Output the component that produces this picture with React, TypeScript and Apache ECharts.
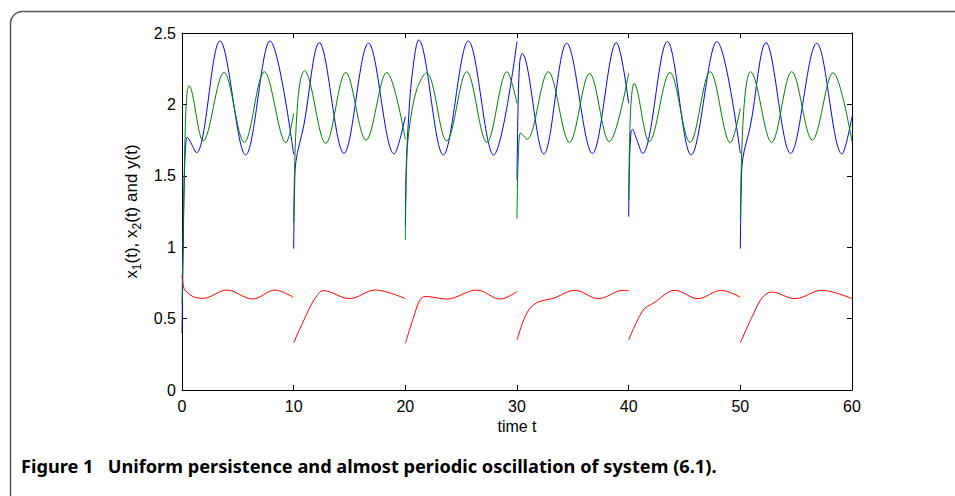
import React, { useEffect, useRef } from "react";
import * as echarts from "echarts";

// x1(t) — blue, one array per impulse interval
const x1Segments: number[][][] = [
  [[0, 0.4], [0.1, 0.95], [0.2, 1.45], [0.3, 1.68], [0.45, 1.77], [0.6, 1.76], [1.3, 1.662], [3.4, 2.444], [5.7, 1.646], [7.88, 2.444], [10, 1.65]],
  [[10, 0.99], [10.08, 1.4], [10.2, 1.6], [10.9, 1.85], [12.3, 2.432], [14.5, 1.657], [16.7, 2.428], [19.0, 1.653], [20, 1.914]],
  [[20, 1.15], [20.08, 1.55], [20.25, 1.85], [20.6, 2.2], [21.2, 2.451], [23.4, 1.646], [25.64, 2.444], [27.9, 1.646], [30, 2.44]],
  [[30, 1.47], [30.1, 2.0], [30.25, 2.3], [30.45, 2.357], [32.4, 1.653], [34.45, 2.428], [36.75, 1.657], [38.9, 2.432], [40, 2.007]],
  [[40, 1.214], [40.08, 1.6], [40.2, 1.8], [40.35, 1.825], [40.6, 1.78], [41.25, 1.657], [43.46, 2.44], [45.6, 1.646], [47.9, 2.44], [50, 1.657]],
  [[50, 0.99], [50.08, 1.4], [50.2, 1.61], [50.9, 1.85], [52.3, 2.432], [54.5, 1.657], [56.84, 2.428], [59.1, 1.653], [60, 1.914]],
];

// x2(t) — green
const x2Segments: number[][][] = [
  [[0, 0.6], [0.15, 1.3], [0.3, 1.85], [0.45, 2.08], [0.62, 2.13], [1.9, 1.745], [3.76, 2.224], [5.58, 1.734], [7.37, 2.229], [9.31, 1.732], [10, 1.937]],
  [[10, 1.17], [10.1, 1.6], [10.3, 1.95], [10.6, 2.17], [10.95, 2.236], [12.87, 1.727], [14.66, 2.224], [16.48, 1.75], [18.33, 2.224], [20, 1.755]],
  [[20, 1.05], [20.1, 1.55], [20.3, 1.8], [21.0, 2.1], [21.9, 2.222], [23.7, 1.744], [25.5, 2.229], [27.3, 1.734], [29.1, 2.229], [30, 2.007]],
  [[30, 1.2], [30.1, 1.6], [30.3, 1.8], [30.5, 1.79], [30.9, 1.755], [32.8, 2.229], [34.7, 1.734], [36.5, 2.217], [38.26, 1.739], [40, 2.217]],
  [[40, 1.33], [40.1, 1.8], [40.25, 2.05], [40.48, 2.147], [41.85, 1.739], [43.7, 2.224], [45.5, 1.734], [47.3, 2.229], [49.1, 1.732], [50, 1.972]],
  [[50, 1.19], [50.1, 1.6], [50.3, 1.95], [50.6, 2.17], [50.9, 2.229], [52.8, 1.734], [54.6, 2.229], [56.45, 1.75], [58.3, 2.222], [60, 1.739]],
];

// y(t) — red
const ySegments: number[][][] = [
  [[0, 0.805], [0.1, 0.74], [0.27, 0.7], [1.0, 0.654], [1.9, 0.642], [4.0, 0.7], [6.33, 0.637], [8.33, 0.7], [9.97, 0.649]],
  [[10, 0.331], [11.2, 0.537], [11.9, 0.64], [12.66, 0.696], [15.0, 0.64], [17.3, 0.7], [20, 0.64]],
  [[20, 0.327], [20.7, 0.5], [21.3, 0.63], [21.8, 0.655], [22.3, 0.652], [23.7, 0.637], [26.4, 0.7], [28.5, 0.637], [30, 0.689]],
  [[30, 0.35], [30.87, 0.537], [31.76, 0.611], [33.25, 0.642], [35.2, 0.698], [37.3, 0.64], [39.5, 0.698], [40, 0.693]],
  [[40, 0.35], [41.3, 0.56], [42.2, 0.607], [44.15, 0.698], [46.2, 0.64], [48.3, 0.698], [50, 0.649]],
  [[50, 0.331], [51.2, 0.537], [52.0, 0.65], [52.8, 0.686], [54.9, 0.64], [57.3, 0.698], [60, 0.64]],
];

const xTicks = { min: 0, max: 60, interval: 10 };
const yTicks = { min: 0, max: 2.5, interval: 0.5 };

const caption = "Figure 1   Uniform persistence and almost periodic oscillation of system (6.1).";

const SANS = "'Liberation Sans', Arial, Helvetica, sans-serif";

export default function App() {
  const ref = useRef<HTMLDivElement>(null);
  useEffect(() => {
    if (!ref.current) return;
    const chart = echarts.init(ref.current, undefined, { renderer: "svg" });
    const mk = (segs: number[][][], color: string, name: string) =>
      segs.map((d) => ({
        type: "line",
        name,
        data: d,
        xAxisIndex: 0,
        yAxisIndex: 0,
        showSymbol: false,
        smooth: 0.35,
        lineStyle: { color, width: 1 },
        itemStyle: { color },
        z: 3,
      }));
    const axisCommon = {
      axisLine: { show: true, onZero: false, lineStyle: { color: "#000", width: 1 } },
      axisTick: { show: true, inside: true, length: 5, lineStyle: { color: "#000", width: 1 } },
      splitLine: { show: false },
    };
    chart.setOption({
      animation: false,
      backgroundColor: "#fff",
      grid: { left: 182, right: 103, top: 33, bottom: 106, containLabel: false },
      xAxis: [
        {
          type: "value",
          ...xTicks,
          ...axisCommon,
          name: "time t",
          nameLocation: "middle",
          nameGap: 28,
          nameTextStyle: { fontFamily: SANS, fontSize: 16, color: "#000" },
          axisLabel: { fontFamily: SANS, fontSize: 16, color: "#000", margin: 8 },
        },
        {
          type: "value",
          position: "top",
          ...xTicks,
          ...axisCommon,
          axisLabel: { show: false },
        },
      ],
      yAxis: [
        {
          type: "value",
          ...yTicks,
          ...axisCommon,
          name: "{n|x}{s|1}{n|(t), x}{s|2}{n|(t) and y(t)}",
          nameLocation: "middle",
          nameGap: 37,
          nameRotate: 90,
          nameTextStyle: {
            color: "#000",
            fontFamily: SANS,
            fontSize: 17,
            rich: {
              n: { fontFamily: SANS, fontSize: 17, color: "#000", lineHeight: 22, verticalAlign: "middle" },
              s: { fontFamily: SANS, fontSize: 12, color: "#000", lineHeight: 12, verticalAlign: "bottom" },
            },
          },
          axisLabel: { fontFamily: SANS, fontSize: 16, color: "#000", margin: 6 },
        },
        {
          type: "value",
          position: "right",
          ...yTicks,
          ...axisCommon,
          axisLabel: { show: false },
        },
      ],
      graphic: [
        {
          type: "rect",
          left: 8,
          top: 9,
          shape: { x: 0, y: 0, width: 1000, height: 500, r: 12 },
          style: { fill: "none", stroke: "#555", lineWidth: 1.5 },
          silent: true,
          z: 0,
        },
        {
          type: "text",
          left: 21,
          top: 457,
          style: {
            text: caption,
            fontFamily: "'Noto Sans', 'Open Sans', sans-serif",
            fontWeight: "bold",
            fontSize: 18.2,
            fill: "#000",
          },
        },
      ],
      series: [
        ...mk(x1Segments, "#0000ff", "x1"),
        ...mk(x2Segments, "#008000", "x2"),
        ...mk(ySegments, "#ff0000", "y"),
      ],
    });
    return () => chart.dispose();
  }, []);
  return (
    <div
      ref={ref}
      style={{ position: "fixed", left: 0, top: 0, width: 955, height: 496, background: "#fff" }}
    />
  );
}
